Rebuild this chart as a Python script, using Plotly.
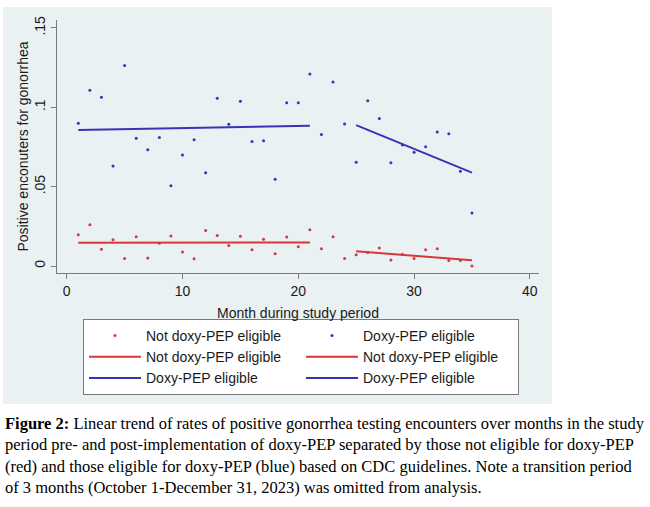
import numpy as np
import plotly.graph_objects as go

# ---- data ----
months = list(range(1, 36))
not_eligible = [0.0197, 0.0260, 0.0105, 0.0166, 0.0048, 0.0185, 0.0050, 0.0143, 0.0189, 0.0088,
                0.0046, 0.0223, 0.0193, 0.0130, 0.0187, 0.0103, 0.0168, 0.0078, 0.0183, 0.0122,
                0.0229, 0.0109, 0.0185, 0.0048, 0.0071, 0.0085, 0.0113, 0.0038, 0.0074, 0.0048,
                0.0103, 0.0109, 0.0034, 0.0034, 0.0000]
eligible = [0.0900, 0.1108, 0.1064, 0.0630, 0.1263, 0.0805, 0.0732, 0.0809, 0.0506, 0.0700,
            0.0796, 0.0588, 0.1057, 0.0893, 0.1038, 0.0784, 0.0790, 0.0547, 0.1028, 0.1028,
            0.1209, 0.0828, 0.1160, 0.0895, 0.0654, 0.1042, 0.0929, 0.0651, 0.0763, 0.0717,
            0.0752, 0.0845, 0.0834, 0.0597, 0.0334]
pre_months = list(range(1, 22))
post_months = list(range(25, 36))
x_ticks = [0, 10, 20, 30, 40]
y_ticks = [0, 0.05, 0.10, 0.15]
y_tick_text = ["0", ".05", ".1", ".15"]
caption_lines = [
    "<b>Figure 2:</b> Linear trend of rates of positive gonorrhea testing encounters over months in the study",
    "period pre- and post-implementation of doxy-PEP separated by those not eligible for doxy-PEP",
    "(red) and those eligible for doxy-PEP (blue) based on CDC guidelines. Note a transition period",
    "of 3 months (October 1-December 31, 2023) was omitted from analysis.",
]

RED = "#d8373a"
BLUE = "#3535b5"
BG = "#e9f1f3"
FONT = "Liberation Sans, Arial, sans-serif"


def linfit(sel, ys_all):
    xv = np.array(sel, dtype=float)
    yv = np.array([ys_all[months.index(m)] for m in sel])
    b, a = np.polyfit(xv, yv, 1)
    return [sel[0], sel[-1]], [a + b * sel[0], a + b * sel[-1]]


fig = go.Figure()
fig.add_trace(go.Scatter(x=months, y=not_eligible, mode="markers", name="Not doxy-PEP eligible",
                         marker=dict(color=RED, size=3)))
fig.add_trace(go.Scatter(x=months, y=eligible, mode="markers", name="Doxy-PEP eligible",
                         marker=dict(color=BLUE, size=3)))
for sel, ys, col, nm in [(pre_months, not_eligible, RED, "Not doxy-PEP eligible"),
                         (post_months, not_eligible, RED, "Not doxy-PEP eligible"),
                         (pre_months, eligible, BLUE, "Doxy-PEP eligible"),
                         (post_months, eligible, BLUE, "Doxy-PEP eligible")]:
    lx, ly = linfit(sel, ys)
    fig.add_trace(go.Scatter(x=lx, y=ly, mode="lines", name=nm, line=dict(color=col, width=2)))

# pixel geometry helpers
L, R, T, B = 57, 539, 20, 273
W, H = 650, 507
pw, ph = R - L, B - T


def px(x):
    return (x - L) / pw


def py(y):
    return (B - y) / ph


fig.add_shape(type="rect", xref="paper", yref="paper", x0=px(3), x1=px(552), y0=py(404), y1=py(7),
              fillcolor=BG, line=dict(width=0), layer="below")

fig.add_annotation(xref="paper", yref="paper", x=px(3), y=py(412), xanchor="left", yanchor="top",
                   text="<br>".join(caption_lines), showarrow=False, align="left",
                   font=dict(family="Liberation Serif, Times New Roman, serif", size=16.5, color="black"))

fig.update_layout(
    width=W, height=H,
    margin=dict(l=L, r=W - R, t=T, b=H - B, pad=0),
    paper_bgcolor="white", plot_bgcolor="white",
    font=dict(family=FONT, size=14, color="#1a1a1a"),
    showlegend=True,
    legend=dict(orientation="h", x=px(83), y=py(319), xanchor="left", yanchor="top",
                entrywidth=150, entrywidthmode="pixels", itemwidth=52,
                bgcolor="white", bordercolor="#7a7a7a", borderwidth=1,
                font=dict(size=14, color="#1a1a1a")),
    xaxis=dict(range=[-0.84, 40.79], tickvals=x_ticks, ticks="outside", ticklen=5, tickcolor="#7a7a7a",
               showline=True, linecolor="#7a7a7a", showgrid=False, zeroline=False,
               title=dict(text="Month during study period", standoff=10, font=dict(size=14)),
               tickfont=dict(size=14)),
    yaxis=dict(range=[-0.0044, 0.155], tickvals=y_ticks, ticktext=y_tick_text, tickangle=-90,
               ticks="outside", ticklen=5, tickcolor="#7a7a7a", showline=True, linecolor="#7a7a7a",
               showgrid=True, gridcolor=BG, gridwidth=1, zeroline=False,
               title=dict(text="Positive enconuters for gonorrhea", standoff=0, font=dict(size=14)),
               tickfont=dict(size=14)),
)

fig.write_html("out.html")
